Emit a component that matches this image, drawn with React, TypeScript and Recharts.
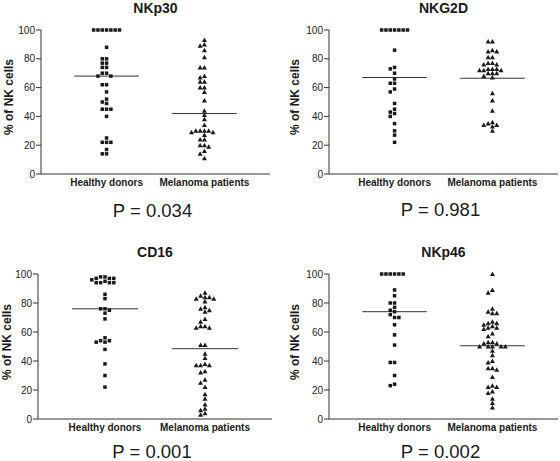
import React from 'react';
import { ScatterChart, Scatter, XAxis, YAxis, ReferenceLine } from 'recharts';

const categories = ['Healthy donors', 'Melanoma patients'];
const yTicks = [0, 20, 40, 60, 80, 100];

const titles = ['NKp30', 'NKG2D', 'CD16', 'NKp46'];
const pValues = ['P = 0.034', 'P = 0.981', 'P = 0.001', 'P = 0.002'];

const nkp30Healthy = [100, 100, 100, 100, 100, 100, 100, 88, 80, 80, 77, 77, 74, 74, 70, 70, 68, 68, 62, 62, 57, 52, 50, 49, 45, 45, 45, 40, 25, 22, 22, 22, 17, 14, 14];
const nkp30Melanoma = [93, 90, 89, 86, 81, 74, 74, 68, 67, 64, 64, 60, 60, 57, 51, 44, 41, 38, 34, 30, 30, 30, 30, 29, 29, 27, 24, 24, 20, 20, 19, 16, 14, 11];
const nkp30Medians = [68, 42];

const nkg2dHealthy = [100, 100, 100, 100, 100, 100, 100, 86, 74, 73, 70, 66, 63, 63, 59, 57, 49, 45, 43, 42, 40, 35, 30, 27, 22];
const nkg2dMelanoma = [92, 92, 86, 85, 85, 81, 81, 77, 77, 76, 76, 73, 73, 73, 72, 72, 72, 70, 70, 70, 68, 67, 56, 51, 44, 36, 35, 34, 34, 33, 30];
const nkg2dMedians = [67, 66.5];

const cd16Healthy = [98, 98, 97, 97, 97, 96, 95, 94, 94, 94, 94, 86, 83, 76, 76, 75, 73, 69, 56, 54, 54, 53, 53, 48, 38, 30, 22];
const cd16Melanoma = [87, 85, 84, 84, 83, 83, 81, 77, 76, 75, 74, 69, 67, 64, 64, 63, 63, 51, 51, 45, 42, 38, 37, 37, 37, 33, 32, 27, 25, 22, 17, 14, 10, 7, 6, 4, 3];
const cd16Medians = [76, 48.5];

const nkp46Healthy = [100, 100, 100, 100, 100, 100, 89, 85, 80, 80, 77, 75, 74, 72, 70, 70, 65, 58, 51, 39, 39, 30, 24, 23];
const nkp46Melanoma = [100, 89, 87, 76, 74, 73, 73, 67, 66, 66, 65, 64, 63, 63, 62, 59, 57, 53, 53, 52, 52, 50, 50, 50, 50, 50, 47, 44, 40, 39, 35, 35, 34, 29, 23, 22, 22, 19, 18, 14, 11, 8];
const nkp46Medians = [74, 50.5];

const FONT = '"Liberation Sans", Arial, sans-serif';
const INK = '#1a1a1a';
const SLOT = 0.044;
const GAP = 3;

// spread points sideways so they don't overlap (prism-like column scatter)
function swarm(values: number[], center: number) {
  const placed: { slot: number; y: number }[] = [];
  [...values].sort((a, b) => b - a).forEach((v) => {
    for (let k = 0; ; k++) {
      const slot = k === 0 ? 0 : k % 2 === 1 ? -Math.ceil(k / 2) : k / 2;
      if (!placed.some((p) => p.slot === slot && Math.abs(p.y - v) < GAP)) {
        placed.push({ slot, y: v });
        break;
      }
    }
  });
  return placed.map((p) => ({ x: center + p.slot * SLOT, y: p.y }));
}

const Square = (props: any) => {
  const { cx, cy } = props;
  return <rect x={cx - 1.75} y={cy - 1.75} width={3.5} height={3.5} fill={INK} />;
};

const Triangle = (props: any) => {
  const { cx, cy } = props;
  return <path d={`M${cx},${cy - 2.5}L${cx + 2.5},${cy + 2}L${cx - 2.5},${cy + 2}Z`} fill={INK} />;
};

interface PanelProps {
  title: string;
  pText: string;
  healthy: number[];
  melanoma: number[];
  medians: number[];
  left: number;
  top: number;
  axisX: number;
  plotRight: number;
  yTop: number;
  yBottom: number;
  titleY: number;
  labelX: number;
  pY: number;
}

const Panel: React.FC<PanelProps> = ({
  title, pText, healthy, melanoma, medians,
  left, top, axisX, plotRight, yTop, yBottom, titleY, labelX, pY
}) => {
  const width = plotRight - left + 10;
  const xAxisH = 28;
  const height = yBottom - top + xAxisH;
  const mid = (axisX + plotRight) / 2;
  const healthyPts = swarm(healthy, 1);
  const melanomaPts = swarm(melanoma, 2);

  return (
    <>
      <div style={{ position: 'absolute', left: mid - 60, width: 120, top: titleY - 9, textAlign: 'center', fontFamily: FONT, fontWeight: 'bold', fontSize: 14, color: INK, lineHeight: '18px' }}>
        {title}
      </div>
      <div style={{ position: 'absolute', left: labelX - 60, top: (yTop + yBottom) / 2 - 5 - 8, width: 120, height: 16, textAlign: 'center', transform: 'rotate(-90deg)', fontFamily: FONT, fontWeight: 'bold', fontSize: 12, color: INK, lineHeight: '16px' }}>
        % of NK cells
      </div>
      <div style={{ position: 'absolute', left: mid - 3 - 80, width: 160, top: pY - 11, textAlign: 'center', fontFamily: FONT, fontSize: 18.5, color: INK, lineHeight: '22px' }}>
        {pText}
      </div>
      <div style={{ position: 'absolute', left, top }}>
        <ScatterChart width={width} height={height} margin={{ top: yTop - top, right: 10, bottom: 0, left: 0 }}>
          <XAxis
            type="number"
            dataKey="x"
            domain={[0.33, 2.67]}
            ticks={[1, 2]}
            tickFormatter={(v: number) => categories[v - 1]}
            tickLine={false}
            tickSize={3}
            tickMargin={2}
            height={xAxisH}
            axisLine={{ stroke: '#333' }}
            tick={{ fill: INK, fontSize: 10, fontWeight: 'bold', fontFamily: FONT }}
          />
          <YAxis
            type="number"
            dataKey="y"
            domain={[0, 100]}
            ticks={yTicks}
            width={axisX - left}
            tickSize={5}
            tickMargin={1}
            axisLine={{ stroke: '#333' }}
            tickLine={{ stroke: '#333' }}
            tick={{ fill: '#222', fontSize: 10, fontFamily: FONT }}
          />
          <Scatter data={healthyPts} shape={Square} isAnimationActive={false} />
          <Scatter data={melanomaPts} shape={Triangle} isAnimationActive={false} />
          <ReferenceLine segment={[{ x: 0.67, y: medians[0] }, { x: 1.33, y: medians[0] }]} stroke="#333" strokeWidth={1} ifOverflow="visible" />
          <ReferenceLine segment={[{ x: 1.67, y: medians[1] }, { x: 2.33, y: medians[1] }]} stroke="#333" strokeWidth={1} ifOverflow="visible" />
        </ScatterChart>
      </div>
    </>
  );
};

export default function App() {
  return (
    <div style={{ position: 'absolute', left: 0, top: 0, width: 560, height: 461, background: '#fff', overflow: 'hidden' }}>
      <Panel title={titles[0]} pText={pValues[0]} healthy={nkp30Healthy} melanoma={nkp30Melanoma} medians={nkp30Medians}
        left={0} top={0} axisX={41} plotRight={270} yTop={30} yBottom={174} titleY={8} labelX={8.5} pY={211} />
      <Panel title={titles[1]} pText={pValues[1]} healthy={nkg2dHealthy} melanoma={nkg2dMelanoma} medians={nkg2dMedians}
        left={280} top={0} axisX={329} plotRight={558} yTop={30} yBottom={174} titleY={8} labelX={295} pY={210} />
      <Panel title={titles[2]} pText={pValues[2]} healthy={cd16Healthy} melanoma={cd16Melanoma} medians={cd16Medians}
        left={0} top={230} axisX={38} plotRight={272} yTop={274} yBottom={419} titleY={252} labelX={7} pY={452} />
      <Panel title={titles[3]} pText={pValues[3]} healthy={nkp46Healthy} melanoma={nkp46Melanoma} medians={nkp46Medians}
        left={280} top={230} axisX={329} plotRight={558} yTop={274} yBottom={419} titleY={252} labelX={295} pY={452} />
    </div>
  );
}
